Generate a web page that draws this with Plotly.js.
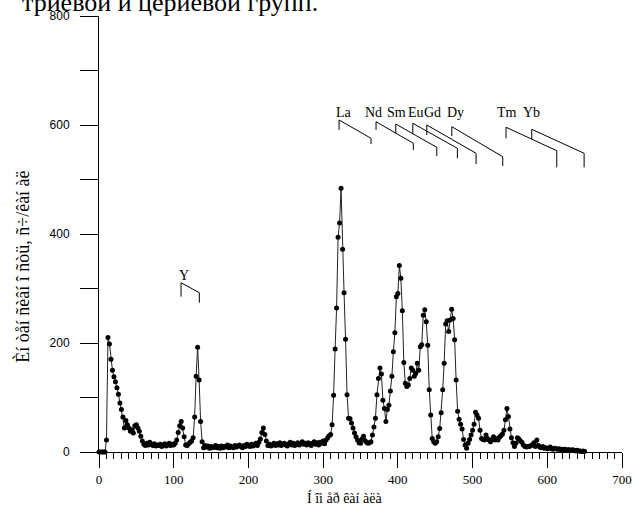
<!DOCTYPE html>
<html>
<head>
<meta charset="utf-8">
<script src="https://cdn.plot.ly/plotly-3.0.1.min.js"></script>
<style>html,body{margin:0;padding:0;background:#fff;}#chart{width:636px;height:506px;}</style>
</head>
<body>
<div id="chart"></div>
<script>
// Spectrum: counts per channel, channels 0..650 in steps of 2
var channelStart = 0;
var channelStep = 2;
var counts = [
  0,0,0,0,0,22,210,198,170,150,
  138,129,118,106,90,78,64,44,58,50,
  44,38,41,35,48,50,44,38,29,20,
  14,12,16,13,18,14,12,15,11,13,
  12,14,10,13,15,11,13,16,12,14,
  13,16,22,36,48,56,44,28,13,12,
  15,18,20,26,64,139,192,132,56,19,
  8,12,9,11,7,10,8,9,12,8,
  10,7,11,8,10,9,13,8,11,9,
  8,12,9,11,13,10,8,12,10,14,
  12,10,14,11,13,16,12,18,24,36,
  44,32,20,12,14,11,13,16,12,15,
  13,17,12,14,16,13,11,15,18,13,
  16,12,14,17,13,15,19,14,16,13,
  17,15,12,16,19,14,17,13,18,16,
  20,15,22,26,30,32,50,104,189,264,
  394,420,484,372,292,207,105,62,61,53,
  44,35,28,22,17,16,24,29,21,18,
  16,17,19,31,46,62,105,135,154,143,
  95,80,56,78,86,112,139,184,219,285,
  291,342,319,259,164,126,120,123,135,154,
  150,139,144,163,150,193,197,251,261,239,
  196,114,68,25,19,16,19,28,43,72,
  114,163,235,241,221,242,262,245,206,132,
  75,60,51,42,23,13,7,16,23,31,
  40,51,73,68,62,40,25,23,22,31,
  25,22,19,23,28,22,25,22,27,30,
  33,40,59,80,65,42,26,17,10,16,
  26,24,20,18,13,10,9,10,10,12,
  13,17,10,22,12,9,8,10,7,8,
  6,7,9,6,5,7,6,5,6,4,
  5,4,5,3,4,4,3,4,3,2,
  3,2,2,1,2,1
];

// Element line markers (data units): label, x start, y top, y mid, x end, y end, y bottom, label x, label y
var elementNames = ["Y","La","Nd","Sm","Eu","Gd","Dy","Tm","Yb"];
var elXStart = [109.8,321.3,370.8,397.2,420.0,438.7,472.2,544.8,579.2];
var elYTop   = [310.6,609.2,606.0,601.8,603.1,600.0,596.9,595.8,592.1];
var elYMid   = [285.0,590.8,590.8,584.8,582.9,581.7,579.8,575.6,573.8];
var elXEnd   = [134.3,364.1,420.7,452.1,479.7,504.7,540.4,612.7,649.3];
var elYEnd   = [292.3,575.6,566.4,559.1,557.2,548.1,541.8,552.8,548.1];
var elYBot   = [274.0,565.1,554.1,543.1,538.9,528.4,524.8,522.4,522.4];
var elLabelX = [113.8,328.0,366.8,397.6,423.7,445.8,476.6,546.2,578.3];
var elLabelY = [324,623,623,623,623,623,623,623,623];

var xTickVals = [0,100,200,300,400,500,600,700];
var yTickVals = [0,200,400,600,800];

var serif = "Liberation Serif, Times New Roman, serif";
var sans = "Liberation Sans, Arial, sans-serif";

var trace = {
  type: "scatter",
  mode: "lines+markers",
  x0: channelStart,
  dx: channelStep,
  y: counts,
  line: {color: "#222", width: 1},
  marker: {color: "#000", size: 5},
  cliponaxis: false,
  hoverinfo: "x+y"
};

var shapes = [];
var annotations = [];
for (var i = 0; i < elementNames.length; i++) {
  shapes.push({
    type: "path", xref: "x", yref: "y",
    path: "M " + elXStart[i] + "," + elYMid[i] + " L " + elXStart[i] + "," + elYTop[i] +
          " L " + elXEnd[i] + "," + elYEnd[i] + " L " + elXEnd[i] + "," + elYBot[i],
    line: {color: "#000", width: 1}
  });
  annotations.push({
    xref: "x", yref: "y", x: elLabelX[i], y: elLabelY[i],
    text: elementNames[i], showarrow: false,
    xanchor: "center", yanchor: "middle",
    font: {family: serif, size: 14, color: "#000"}
  });
}
// y-axis extension below the x axis
shapes.push({
  type: "line", xref: "x", yref: "y", ysizemode: "pixel", yanchor: 0,
  x0: 0, x1: 0, y0: 0, y1: -10,
  line: {color: "#000", width: 1}
});

annotations.push({
  xref: "paper", yref: "paper", x: 0.470, y: 0, yshift: -46,
  xanchor: "center", yanchor: "middle", showarrow: false,
  text: "Í îì åð êàí àëà",
  font: {family: serif, size: 14, color: "#000"}
});
annotations.push({
  xref: "paper", yref: "paper", x: -0.1453, y: 0.425,
  xanchor: "center", yanchor: "middle", showarrow: false, textangle: -90,
  text: "Èí òåí ñèâí î ñòü, ñ÷/êàí àë",
  font: {family: serif, size: 18, color: "#000"}
});
annotations.push({
  xref: "paper", yref: "paper", x: -0.151, y: 1, yshift: -3,
  xanchor: "left", yanchor: "bottom", showarrow: false,
  text: "триевой и цериевой групп.",
  font: {family: serif, size: 26, color: "#000"}
});

var layout = {
  width: 636, height: 506,
  margin: {l: 99, r: 14, t: 16, b: 54, pad: 0},
  paper_bgcolor: "#fff", plot_bgcolor: "#fff",
  showlegend: false,
  xaxis: {
    range: [0, 700], showgrid: false, zeroline: false,
    showline: true, linecolor: "#000", linewidth: 1,
    ticks: "outside", ticklen: 15, tickwidth: 1, tickcolor: "#000",
    tickvals: xTickVals, ticktext: xTickVals.map(String),
    minor: {dtick: 10, tick0: 0, ticks: "outside", ticklen: 6, tickwidth: 1, tickcolor: "#000", showgrid: false},
    tickfont: {family: serif, size: 13, color: "#000"}
  },
  yaxis: {
    range: [0, 800], showgrid: false, zeroline: false,
    showline: true, linecolor: "#000", linewidth: 1,
    ticks: "outside", ticklen: 18, tickwidth: 1, tickcolor: "#000",
    tickvals: yTickVals, ticktext: yTickVals.map(String),
    ticklabelstandoff: 8,
    minor: {dtick: 100, tick0: 0, ticks: "outside", ticklen: 18, tickwidth: 1, tickcolor: "#000", showgrid: false},
    tickfont: {family: sans, size: 12, color: "#000"}
  },
  shapes: shapes,
  annotations: annotations
};

Plotly.newPlot("chart", [trace], layout, {displayModeBar: false, staticPlot: true});
</script>
</body>
</html>
